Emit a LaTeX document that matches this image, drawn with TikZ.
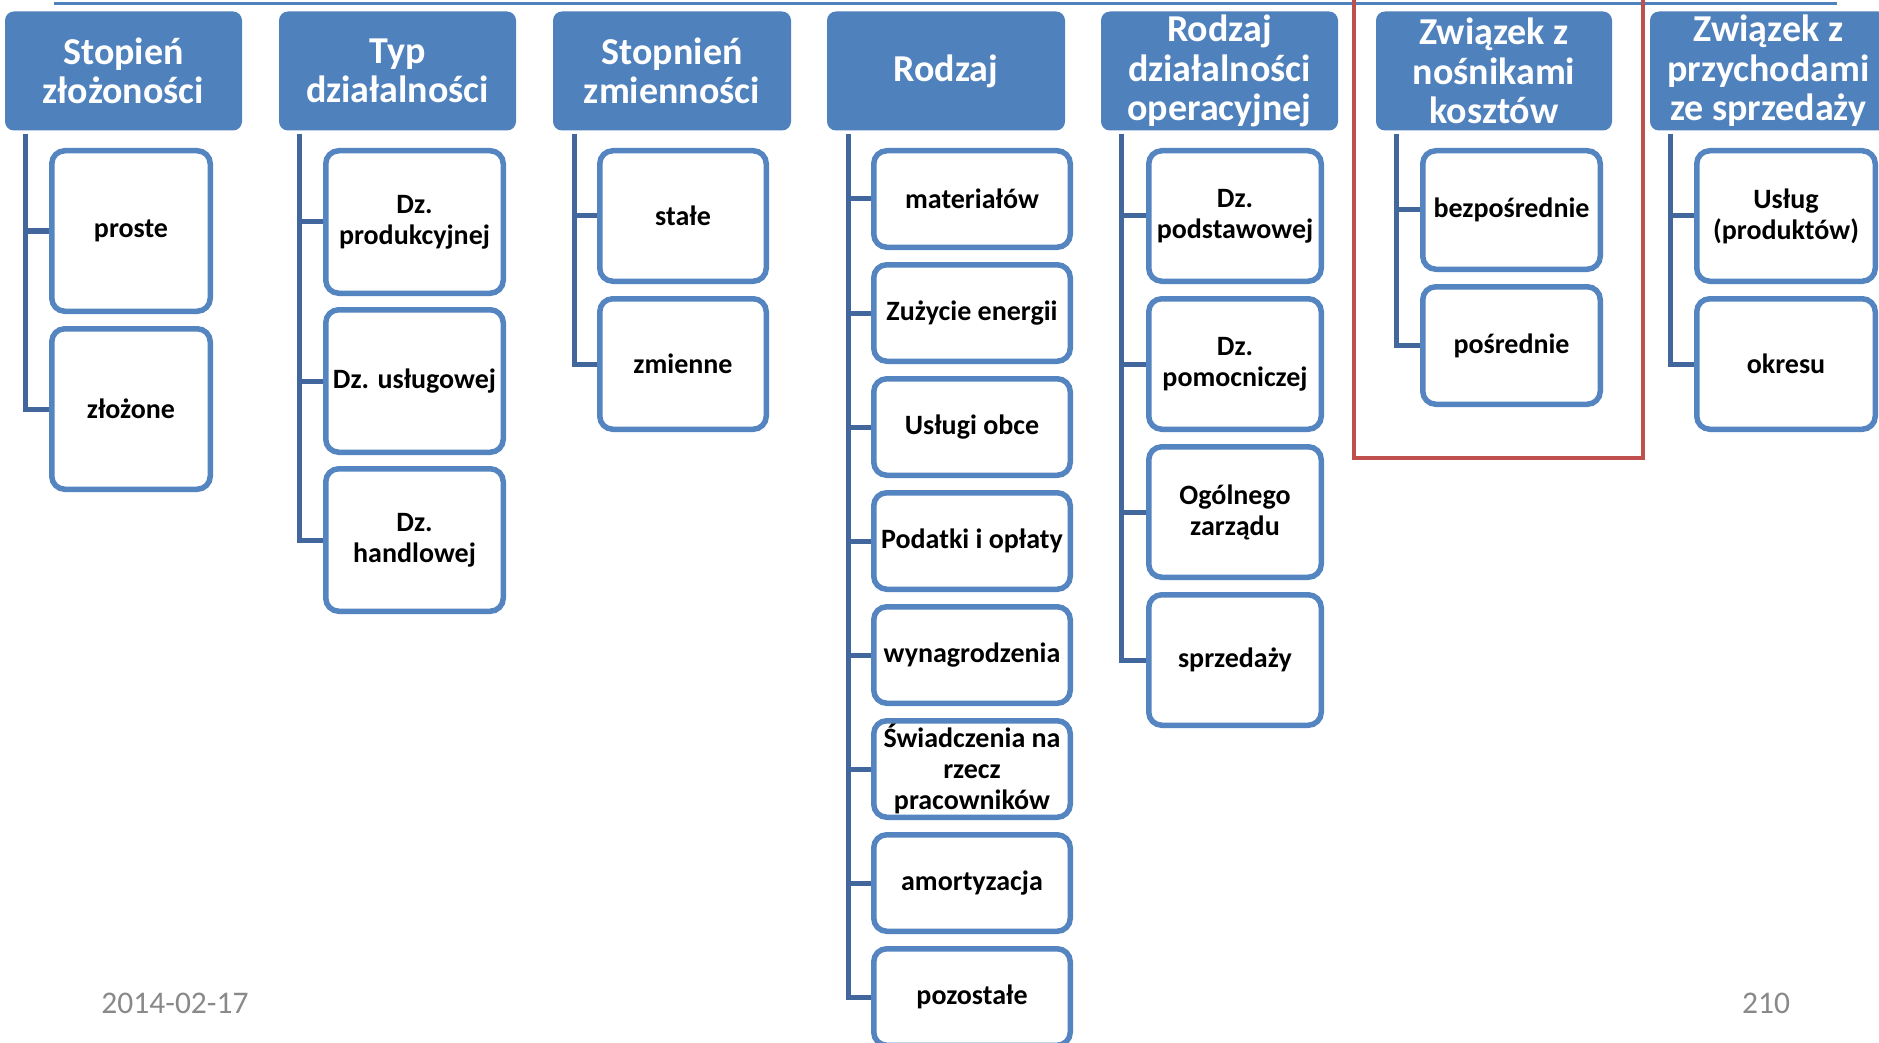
\documentclass[tikz,border=0pt]{standalone}
\usepackage{fontspec}
\setmainfont{Carlito}
\usetikzlibrary{calc,backgrounds}
\definecolor{hdrblue}{HTML}{4F81BD}
\definecolor{bordblue}{HTML}{5585C0}
\definecolor{connblue}{HTML}{41679C}
\definecolor{redbox}{HTML}{C0504D}
\definecolor{footgray}{HTML}{898989}
\newcommand{\kidbox}[6]{\node[kid,minimum width={#4-#2-5.5},minimum height={#5-#3-5.5}] (#1) at ({(#2+#4)/2},{(#3+#5)/2}) {#6};}
\newcommand{\hdrbox}[4]{\node[hdr,minimum width={#3-#2}] (#1) at ({(#2+#3)/2},71) {#4};}
\begin{document}
\begin{tikzpicture}[x=1pt,y=-1pt,
  hdr/.style={fill=hdrblue, rounded corners=9pt, text=white, font=\fontsize{38}{39.5}\selectfont\bfseries, align=center, inner sep=0pt, minimum height=119pt},
  kid/.style={draw=bordblue, line width=5.5pt, fill=white, rounded corners=13pt, font=\fontsize{28}{31}\selectfont\bfseries, align=center, inner sep=0pt},
  conn/.style={draw=connblue, line width=5pt, line join=miter},
  foot/.style={text=footgray, font=\fontsize{31.5}{36}\selectfont, anchor=base, inner sep=0pt}]
\useasboundingbox (0,0) rectangle (1879,1043);
\clip (0,0) rectangle (1879,1043);
\begin{scope}[on background layer]
\fill[white] (0,0) rectangle (1879,1043);
\end{scope}
% top rule
\draw[hdrblue, line width=2.5pt] (54,3.5) -- (1837,3.5);
% headers
\hdrbox{h1}{5}{242}{Stopień\\złożoności}
\hdrbox{h2}{279}{516}{Typ\\działalności}
\hdrbox{h3}{553}{791}{Stopnień\\zmienności}
\hdrbox{h4}{827}{1065}{Rodzaj}
\hdrbox{h5}{1101}{1338}{Rodzaj\\działalności\\operacyjnej}
\hdrbox{h6}{1376}{1612}{Związek z\\nośnikami\\kosztów}
\hdrbox{h7}{1650}{1887}{Związek z\\przychodami\\ze sprzedaży}
% column 1
\kidbox{c1a}{49}{148}{213}{314}{proste}
\kidbox{c1b}{49}{326}{213}{492}{złożone}
% column 2
\kidbox{c2a}{323}{148}{506}{296}{Dz.\\produkcyjnej}
\kidbox{c2b}{323}{307}{506}{455}{Dz. usługowej}
\kidbox{c2c}{323}{466}{506}{614}{Dz.\\handlowej}
% column 3
\kidbox{c3a}{597}{148}{769}{284}{stałe}
\kidbox{c3b}{597}{296}{769}{432}{zmienne}
% column 4
\kidbox{c4a}{871}{148}{1073}{250}{materiałów}
\kidbox{c4b}{871}{262}{1073}{364}{Zużycie energii}
\kidbox{c4c}{871}{376}{1073}{478}{Usługi obce}
\kidbox{c4d}{871}{490}{1073}{592}{Podatki i opłaty}
\kidbox{c4e}{871}{604}{1073}{706}{wynagrodzenia}
\kidbox{c4f}{871}{718}{1073}{820}{Świadczenia na\\rzecz\\pracowników}
\kidbox{c4g}{871}{832}{1073}{934}{amortyzacja}
\kidbox{c4h}{871}{946}{1073}{1048}{pozostałe}
% column 5
\kidbox{c5a}{1146}{148}{1324}{284}{Dz.\\podstawowej}
\kidbox{c5b}{1146}{296}{1324}{432}{Dz.\\pomocniczej}
\kidbox{c5c}{1146}{444}{1324}{580}{Ogólnego\\zarządu}
\kidbox{c5d}{1146}{592}{1324}{728}{sprzedaży}
% column 6
\kidbox{c6a}{1420}{148}{1603}{272}{bezpośrednie}
\kidbox{c6b}{1420}{284}{1603}{407}{pośrednie}
% column 7
\kidbox{c7a}{1694}{148}{1878}{284}{Usług\\(produktów)}
\kidbox{c7b}{1694}{296}{1878}{432}{okresu}
% connectors
\coordinate (v1) at ($(h1.south west)+(21,3)$);
\coordinate (v2) at ($(h2.south west)+(21,3)$);
\coordinate (v3) at ($(h3.south west)+(22,3)$);
\coordinate (v4) at ($(h4.south west)+(22,3)$);
\coordinate (v5) at ($(h5.south west)+(21,3)$);
\coordinate (v6) at ($(h6.south west)+(21,3)$);
\coordinate (v7) at ($(h7.south west)+(21,3)$);
\begin{scope}[on background layer]
\draw[conn] (v1) |- (c1b.west);
\draw[conn] (v1 |- c1a.west) -- (c1a.west);
\draw[conn] (v2) |- (c2c.west);
\foreach \k in {c2a,c2b} \draw[conn] (v2 |- \k.west) -- (\k.west);
\draw[conn] (v3) |- (c3b.west);
\draw[conn] (v3 |- c3a.west) -- (c3a.west);
\draw[conn] (v4) |- (c4h.west);
\foreach \k in {c4a,c4b,c4c,c4d,c4e,c4f,c4g} \draw[conn] (v4 |- \k.west) -- (\k.west);
\draw[conn] (v5) |- (c5d.west);
\foreach \k in {c5a,c5b,c5c} \draw[conn] (v5 |- \k.west) -- (\k.west);
\draw[conn] (v6) |- (c6b.west);
\draw[conn] (v6 |- c6a.west) -- (c6a.west);
\draw[conn] (v7) |- (c7b.west);
\draw[conn] (v7 |- c7a.west) -- (c7a.west);
\end{scope}
% red frame
\draw[redbox, line width=4.5pt, line join=miter] (1354,-10) -- (1354,458) -- (1643,458) -- (1643,-10);
% footer
\node[foot] (date) at (175,1013) {2014-02-17};
\node[foot] (pnum) at (1766,1013) {210};
\end{tikzpicture}
\end{document}
